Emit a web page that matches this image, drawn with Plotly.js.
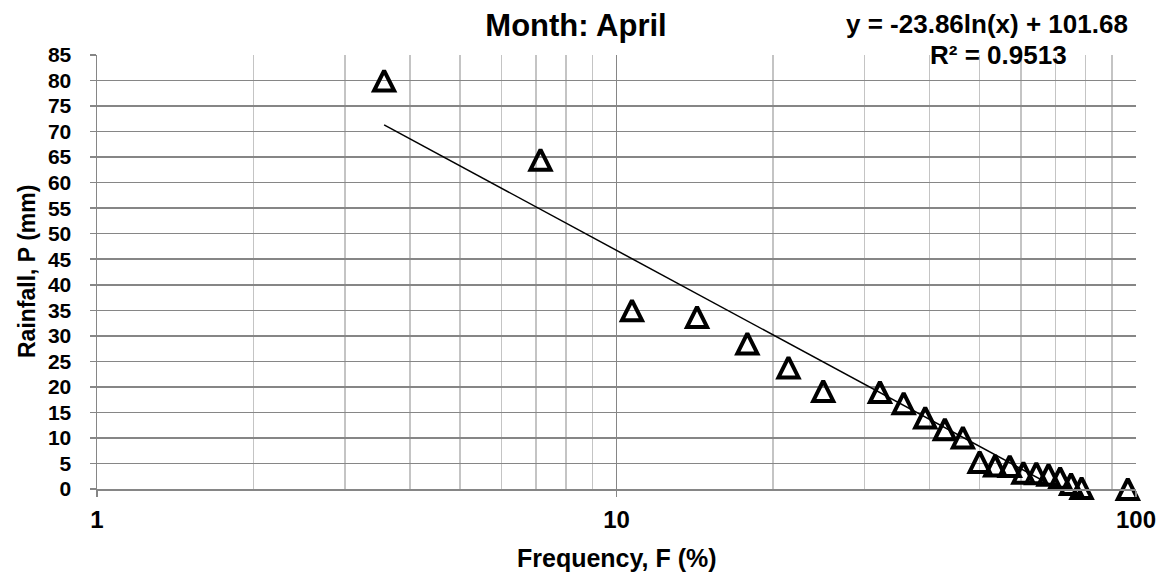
<!DOCTYPE html>
<html>
<head>
<meta charset="utf-8">
<script src="https://cdn.plot.ly/plotly-3.0.1.min.js"></script>
<style>
  html, body { margin: 0; padding: 0; background: #fff; }
  #chart { width: 1170px; height: 578px; }
</style>
</head>
<body>
<div id="chart"></div>
<script>
// frequency F (%) and rainfall P (mm)
var frequency = [3.57, 7.14, 10.71, 14.29, 17.86, 21.43, 25.0, 32.14, 35.71, 39.29, 42.86,
                 46.43, 50.0, 53.57, 57.14, 60.71, 64.29, 67.86, 71.43, 75.0, 78.57, 96.43];
var rainfall = [80, 64.5, 35, 33.7, 28.5, 23.8, 19.2, 19.0, 16.8, 14.0, 11.7,
                10.1, 5.3, 4.6, 4.5, 3.2, 3.1, 2.8, 2.2, 1.0, 0.2, 0];

// log trendline shown on the chart: y = a ln(x) + b
var trendA = -23.86;
var trendB = 101.68;
var eqText = 'y = -23.86ln(x) + 101.68';
var r2Text = 'R² = 0.9513';

var fontFam = 'Liberation Sans, Arial, sans-serif';
var axisGray = '#868686';
var yMax = 85;
var margin = { l: 97, r: 34, t: 55, b: 89 };
var plotH = 578 - margin.t - margin.b;

// arrow-up markers have their tip on the point; draw them on an overlaid
// axis shifted by half the marker height so the triangle is centred on it
var markerSize = 20;
var shift = (markerSize / 2) * yMax / plotH;

// trendline across the data range (straight on a log x axis)
var trendX = [frequency[0], frequency[frequency.length - 1]];
var trendY = trendX.map(x => trendA * Math.log(x) + trendB);

var traces = [
    {
        x: trendX,
        y: trendY,
        type: 'scatter',
        mode: 'lines',
        line: { color: '#000', width: 1.5 },
        hoverinfo: 'skip'
    },
    {
        x: frequency,
        y: rainfall,
        yaxis: 'y2',
        type: 'scatter',
        mode: 'markers',
        cliponaxis: false,
        marker: {
            symbol: 'arrow-up-open',
            size: markerSize,
            color: '#000',
            line: { color: '#000', width: 4 }
        }
    }
];

var layout = {
    width: 1170,
    height: 578,
    margin: margin,
    paper_bgcolor: '#fff',
    plot_bgcolor: '#fff',
    showlegend: false,
    font: { family: fontFam, color: '#000' },
    title: {
        text: 'Month: April',
        font: { family: fontFam, size: 31, weight: 'bold', color: '#000' },
        xref: 'container',
        yref: 'container',
        x: 576 / 1170,
        xanchor: 'center',
        y: 1 - 25 / 578,
        yanchor: 'middle'
    },
    xaxis: {
        type: 'log',
        range: [0, 2],
        tickvals: [1, 10, 100],
        ticktext: ['1', '10', '100'],
        ticks: 'outside',
        ticklen: 6,
        tickwidth: 1.5,
        tickcolor: axisGray,
        ticklabelstandoff: 3,
        tickfont: { family: fontFam, size: 24, weight: 'bold', color: '#000' },
        showline: true,
        linecolor: axisGray,
        linewidth: 1.5,
        showgrid: true,
        gridcolor: axisGray,
        gridwidth: 1.5,
        zeroline: false,
        minor: {
            dtick: 'D1',
            showgrid: true,
            gridcolor: '#c4c4c4',
            gridwidth: 1.5,
            ticks: ''
        }
    },
    yaxis: {
        range: [0, yMax],
        dtick: 5,
        tick0: 0,
        ticks: 'outside',
        ticklen: 6,
        tickwidth: 1.5,
        tickcolor: axisGray,
        ticklabelstandoff: 14,
        tickfont: { family: fontFam, size: 21, weight: 'bold', color: '#000' },
        showline: true,
        linecolor: axisGray,
        linewidth: 1.5,
        showgrid: true,
        gridcolor: axisGray,
        gridwidth: 1.5,
        zeroline: false
    },
    yaxis2: {
        overlaying: 'y',
        range: [-shift, yMax - shift],
        visible: false,
        showgrid: false,
        zeroline: false
    },
    annotations: [
        {
            text: eqText,
            xref: 'paper', yref: 'paper',
            x: (987 - 97) / 1039, y: (489 - 24) / 434,
            xanchor: 'center', yanchor: 'middle',
            showarrow: false,
            font: { family: fontFam, size: 26, weight: 'bold', color: '#000' }
        },
        {
            text: r2Text,
            xref: 'paper', yref: 'paper',
            x: (998 - 97) / 1039, y: (489 - 55) / 434,
            xanchor: 'center', yanchor: 'middle',
            showarrow: false,
            font: { family: fontFam, size: 26, weight: 'bold', color: '#000' }
        },
        {
            text: 'Frequency, F (%)',
            xref: 'paper', yref: 'paper',
            x: (617 - 97) / 1039, y: (489 - 558) / 434,
            xanchor: 'center', yanchor: 'middle',
            showarrow: false,
            font: { family: fontFam, size: 25, weight: 'bold', color: '#000' }
        },
        {
            text: 'Rainfall, P (mm)',
            xref: 'paper', yref: 'paper',
            x: (27 - 97) / 1039, y: (489 - 272) / 434,
            xanchor: 'center', yanchor: 'middle',
            textangle: -90,
            showarrow: false,
            font: { family: fontFam, size: 23, weight: 'bold', color: '#000' }
        }
    ]
};

Plotly.newPlot('chart', traces, layout, { displayModeBar: false, staticPlot: true });
</script>
</body>
</html>
